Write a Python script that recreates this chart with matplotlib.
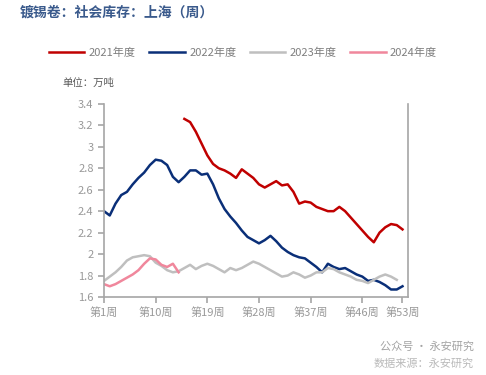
import numpy as np
import matplotlib
matplotlib.use("Agg")
import matplotlib.pyplot as plt

plt.rcParams['font.family'] = ['Noto Sans CJK SC', 'DejaVu Sans']

# weekly inventory, 10k tonnes
weeks_2021 = list(range(15, 54))
val_2021 = [3.26, 3.23, 3.14, 3.03, 2.92, 2.84, 2.80, 2.78, 2.75, 2.71,
            2.79, 2.75, 2.71, 2.65, 2.62, 2.65, 2.68, 2.64, 2.65, 2.58,
            2.47, 2.49, 2.48, 2.44, 2.42, 2.40, 2.40, 2.44, 2.40, 2.34,
            2.28, 2.22, 2.16, 2.11, 2.20, 2.25, 2.28, 2.27, 2.23]

weeks_2022 = list(range(1, 54))
val_2022 = [2.40, 2.36, 2.47, 2.55, 2.58, 2.65, 2.71, 2.76, 2.83, 2.88,
            2.87, 2.83, 2.72, 2.67, 2.72, 2.78, 2.78, 2.74, 2.75, 2.65,
            2.52, 2.42, 2.35, 2.29, 2.22, 2.16, 2.13, 2.10, 2.13, 2.17,
            2.12, 2.06, 2.02, 1.99, 1.97, 1.96, 1.92, 1.88, 1.83, 1.91,
            1.88, 1.86, 1.87, 1.84, 1.81, 1.79, 1.75, 1.76, 1.74, 1.71,
            1.67, 1.67, 1.70]

weeks_2023 = list(range(1, 53))
val_2023 = [1.75, 1.79, 1.83, 1.88, 1.94, 1.97, 1.98, 1.99, 1.98, 1.92,
            1.89, 1.85, 1.83, 1.84, 1.87, 1.90, 1.86, 1.89, 1.91, 1.89,
            1.86, 1.83, 1.87, 1.85, 1.87, 1.90, 1.93, 1.91, 1.88, 1.85,
            1.82, 1.79, 1.80, 1.83, 1.81, 1.78, 1.80, 1.83, 1.83, 1.87,
            1.86, 1.83, 1.81, 1.79, 1.76, 1.75, 1.73, 1.76, 1.79, 1.81,
            1.79, 1.76]

weeks_2024 = list(range(1, 15))
val_2024 = [1.72, 1.70, 1.72, 1.75, 1.78, 1.81, 1.85, 1.91, 1.96, 1.95,
            1.90, 1.88, 1.91, 1.83]

xticks = [1, 10, 19, 28, 37, 46, 53]
xlabels = ['第1周', '第10周', '第19周', '第28周', '第37周', '第46周', '第53周']
yticks = [1.6, 1.8, 2.0, 2.2, 2.4, 2.6, 2.8, 3.0, 3.2, 3.4]
ylabels = ['1.6', '1.8', '2', '2.2', '2.4', '2.6', '2.8', '3', '3.2', '3.4']

fig = plt.figure(figsize=(4.86, 3.75), dpi=100)
ax = fig.add_axes([0.214, 0.208, 0.626, 0.515])

lw = 1.8
ax.plot(weeks_2021, val_2021, color='#C00000', lw=lw, label='2021年度', solid_joinstyle='round')
ax.plot(weeks_2022, val_2022, color='#0A2F78', lw=lw, label='2022年度', solid_joinstyle='round')
ax.plot(weeks_2023, val_2023, color='#BFBFBF', lw=lw, label='2023年度', solid_joinstyle='round')
ax.plot(weeks_2024, val_2024, color='#F0879C', lw=lw, label='2024年度', solid_joinstyle='round')

ax.set_xlim(1, 54)
ax.set_ylim(1.6, 3.4)
ax.set_xticks(xticks)
ax.set_xticklabels(xlabels)
ax.set_yticks(yticks)
ax.set_yticklabels(ylabels)

gray = '#999999'
for side in ['left', 'bottom', 'right']:
    ax.spines[side].set_color('#A6A6A6')
    ax.spines[side].set_linewidth(1.2)
ax.spines['top'].set_visible(False)
ax.tick_params(axis='both', colors='#A6A6A6', labelcolor=gray, labelsize=8,
               length=4, width=1.2, direction='out')

fig.text(0.04, 0.967, '镀锡卷：社会库存：上海（周）', fontsize=10, fontweight='bold',
         color='#3A5A8C', va='center', ha='left')
fig.text(0.128, 0.78, '单位：万吨', fontsize=7.5, color='#595959', va='center', ha='left')

fig.legend(loc='center', bbox_to_anchor=(0.5, 0.859), ncol=4, frameon=False,
           fontsize=8, handlelength=3.2, columnspacing=1.2, handletextpad=0.4,
           labelcolor='#7F7F7F')

fig.text(0.975, 0.075, '公众号 · 永安研究', fontsize=8, color='#8C8C8C', alpha=0.8,
         ha='right', va='center')
fig.text(0.975, 0.03, '数据来源：永安研究', fontsize=8, color='#8C8C8C', alpha=0.6,
         ha='right', va='center')

fig.savefig('out.png', dpi=100, facecolor='white')
